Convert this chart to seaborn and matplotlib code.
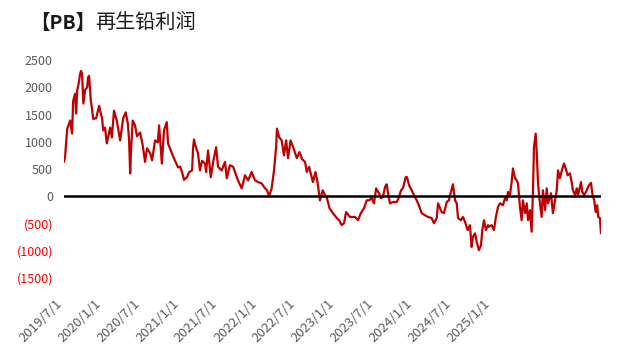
import pandas as pd
import seaborn as sns
import matplotlib.pyplot as plt
import matplotlib.ticker as mticker
import matplotlib.transforms as mtransforms

# profit series, values
dates = [
    "2019-07-01", "2019-07-06", "2019-07-11", "2019-07-16", "2019-07-30", "2019-08-08",
    "2019-08-13", "2019-08-22", "2019-08-27", "2019-09-01", "2019-09-08", "2019-09-15",
    "2019-09-19", "2019-09-24", "2019-09-30", "2019-10-08", "2019-10-18", "2019-10-22",
    "2019-10-27", "2019-11-04", "2019-11-10", "2019-11-15", "2019-11-29", "2019-12-13",
    "2019-12-18", "2019-12-27", "2020-01-01", "2020-01-10", "2020-01-18", "2020-02-03",
    "2020-02-11", "2020-02-21", "2020-03-05", "2020-03-21", "2020-04-04", "2020-04-16",
    "2020-04-26", "2020-05-02", "2020-05-07", "2020-05-11", "2020-05-19", "2020-05-30",
    "2020-06-08", "2020-06-23", "2020-07-05", "2020-07-16", "2020-07-25", "2020-08-09",
    "2020-08-18", "2020-09-01", "2020-09-14", "2020-09-20", "2020-10-03", "2020-10-13",
    "2020-10-26", "2020-11-01", "2020-11-20", "2020-12-04", "2020-12-18", "2020-12-28",
    "2021-01-06", "2021-01-15", "2021-01-29", "2021-02-08", "2021-02-22", "2021-02-27",
    "2021-03-03", "2021-03-08", "2021-03-17", "2021-03-22", "2021-03-31", "2021-04-10",
    "2021-04-24", "2021-04-29", "2021-05-08", "2021-05-21", "2021-06-01", "2021-06-15",
    "2021-06-24", "2021-07-11", "2021-07-27", "2021-08-04", "2021-08-19", "2021-09-03",
    "2021-09-20", "2021-09-26", "2021-10-13", "2021-10-29", "2021-11-12", "2021-11-29",
    "2021-12-15", "2021-12-29", "2022-01-15", "2022-01-31", "2022-02-09", "2022-02-19",
    "2022-03-03", "2022-03-14", "2022-03-24", "2022-03-28", "2022-04-07", "2022-04-19",
    "2022-04-30", "2022-05-10", "2022-05-19", "2022-05-31", "2022-06-14", "2022-06-29",
    "2022-07-12", "2022-07-24", "2022-08-07", "2022-08-15", "2022-08-26", "2022-09-07",
    "2022-09-13", "2022-09-25", "2022-10-05", "2022-10-16", "2022-10-29", "2022-11-09",
    "2022-11-18", "2022-11-30", "2022-12-16", "2023-01-03", "2023-01-14", "2023-01-26",
    "2023-02-06", "2023-02-16", "2023-03-06", "2023-03-30", "2023-04-13", "2023-04-26",
    "2023-05-11", "2023-05-24", "2023-06-04", "2023-06-16", "2023-06-27", "2023-07-07",
    "2023-07-16", "2023-07-21", "2023-07-30", "2023-08-08", "2023-08-18", "2023-08-26",
    "2023-09-01", "2023-09-10", "2023-09-24", "2023-10-12", "2023-10-23", "2023-11-01",
    "2023-11-10", "2023-11-23", "2023-11-29", "2023-12-09", "2023-12-21", "2024-01-01",
    "2024-01-14", "2024-01-20", "2024-01-29", "2024-02-06", "2024-02-22", "2024-03-07",
    "2024-03-24", "2024-04-04", "2024-04-17", "2024-04-23", "2024-05-10", "2024-05-21",
    "2024-06-03", "2024-06-13", "2024-06-23", "2024-07-02", "2024-07-12", "2024-07-20",
    "2024-07-26", "2024-08-09", "2024-08-18", "2024-08-28", "2024-09-09", "2024-09-20",
    "2024-09-28", "2024-10-04", "2024-10-14", "2024-10-22", "2024-11-01", "2024-11-11",
    "2024-11-17", "2024-11-25", "2024-12-04", "2024-12-14", "2024-12-18", "2024-12-31",
    "2025-01-11", "2025-01-20", "2025-01-30", "2025-02-08", "2025-02-22", "2025-03-04",
    "2025-03-12", "2025-03-18", "2025-03-27", "2025-04-04", "2025-04-10", "2025-04-20",
    "2025-04-28", "2025-05-04", "2025-05-13", "2025-05-21", "2025-05-27", "2025-06-06",
    "2025-06-14", "2025-06-20", "2025-06-29", "2025-07-07", "2025-07-13", "2025-07-18",
    "2025-07-26", "2025-07-31", "2025-08-06", "2025-08-15", "2025-08-23", "2025-08-29",
    "2025-09-08", "2025-09-16", "2025-09-22", "2025-10-06", "2025-10-15", "2025-10-25",
    "2025-11-02", "2025-11-08", "2025-11-17", "2025-11-26", "2025-12-06", "2025-12-14",
    "2025-12-23", "2026-01-03", "2026-01-11", "2026-01-17", "2026-01-27", "2026-02-04",
    "2026-02-10", "2026-02-24", "2026-03-02", "2026-03-11", "2026-03-23", "2026-04-02",
    "2026-04-12", "2026-04-18", "2026-04-27", "2026-05-04", "2026-05-11", "2026-05-16",
    "2026-05-24", "2026-05-29",
]
profit = [
    630, 720, 970, 1240, 1390, 1150,
    1750, 1880, 1520, 1940, 2070, 2250,
    2300, 2250, 1700, 1950, 2000, 2180,
    2210, 1750, 1600, 1420, 1430, 1660,
    1570, 1430, 1210, 1260, 970, 1260,
    1080, 1570, 1390, 1025, 1430, 1540,
    1335, 1025, 420, 840, 1390, 1300,
    1100, 1170, 930, 630, 880, 790,
    660, 1025, 990, 1300, 600, 1210,
    1360, 970, 780, 650, 530, 540,
    440, 300, 350, 440, 475, 900,
    1040, 950, 840, 790, 475, 650,
    600, 445, 840, 350, 630, 900,
    540, 475, 630, 330, 570, 540,
    350, 290, 145, 385, 290, 445,
    290, 260, 235, 145, 110, 5,
    145, 475, 900, 1240, 1085, 1025,
    750, 1025, 700, 1025, 880, 700,
    810, 680, 630, 445, 540, 350,
    260, 445, 250, -75, 110, 20,
    -35, -220, -310, -400, -440, -530,
    -495, -290, -380, -380, -440, -310,
    -220, -75, -75, -35, -130, 145,
    80, 55, -35, -10, 170, 220,
    55, -130, -105, -105, -10, 110,
    145, 350, 350, 200, 110, 20,
    -75, -130, -220, -310, -350, -380,
    -400, -495, -400, -130, -290, -310,
    -105, -75, 80, 220, -75, -130,
    -400, -440, -380, -470, -620, -530,
    -930, -745, -680, -840, -990, -900,
    -620, -440, -620, -530, -560, -530,
    -620, -380, -195, -130, -165, -35,
    -75, 80, 20, 260, 510, 330,
    290, 235, -195, -440, -75, -310,
    -130, -440, -255, -650, 55, 900,
    1150, 790, 235, -130, -380, 110,
    -255, 145, -130, 55, -310, -75,
    110, 475, 330, 475, 600, 510,
    385, 420, 260, 110, 20, 145,
    20, 260, 80, 20, 110, 200,
    245, 55, -75, -290, -165, -380,
    -400, -680,
]

tick_dates = ["2019-07-01", "2020-01-01", "2020-07-01", "2021-01-01", "2021-07-01", "2022-01-01",
              "2022-07-01", "2023-01-01", "2023-07-01", "2024-01-01", "2024-07-01", "2025-01-01"]
tick_labels = ["2019/7/1", "2020/1/1", "2020/7/1", "2021/1/1", "2021/7/1", "2022/1/1",
               "2022/7/1", "2023/1/1", "2023/7/1", "2024/1/1", "2024/7/1", "2025/1/1"]
y_ticks = [-1500, -1000, -500, 0, 500, 1000, 1500, 2000, 2500]

df = pd.DataFrame({"date": pd.to_datetime(dates), "profit": profit})

sns.set_theme(style="white")
plt.rcParams["font.family"] = ["Noto Sans CJK SC", "DejaVu Sans"]

fig = plt.figure(figsize=(6.2, 3.57), dpi=100)
ax = fig.add_axes([64 / 620, 79 / 357, 537 / 620, 218 / 357])

sns.lineplot(data=df, x="date", y="profit", ax=ax, color="#C00000", linewidth=1.6)
ax.axhline(0, color="black", linewidth=1.8, zorder=3)

ax.set_xlim(df["date"].iloc[0], df["date"].iloc[-1])
ax.set_ylim(-1500, 2500)
ax.set_xlabel("")
ax.set_ylabel("")
for s in ax.spines.values():
    s.set_visible(False)

ax.set_yticks(y_ticks)
ax.yaxis.set_major_formatter(mticker.FuncFormatter(
    lambda v, p: f"({abs(v):.0f})" if v < 0 else f"{v:.0f}"))
ax.tick_params(axis="y", length=0, pad=8, labelsize=9)
for lab, v in zip(ax.get_yticklabels(), y_ticks):
    lab.set_color("#FF0000" if v < 0 else "#595959")

ax.set_xticks(pd.to_datetime(tick_dates))
ax.set_xticklabels(tick_labels, rotation=45, ha="right", va="center",
                   rotation_mode="anchor", color="#595959", fontsize=9.5)
ax.tick_params(axis="x", length=0, pad=17)
shift = mtransforms.ScaledTranslation(-4 / 100, 0, fig.dpi_scale_trans)
for lab in ax.get_xticklabels():
    lab.set_transform(lab.get_transform() + shift)

# title: bold bracket part, regular rest
t1 = fig.text(0.048, 0.933, "【PB】", fontsize=14, fontweight="bold", va="center", color="#1a1a1a")
ax.annotate("再生铅利润", xy=(1, 0.5), xycoords=t1, va="center", ha="left",
            fontsize=14.5, color="#1a1a1a")

fig.savefig("out.png", dpi=100)
